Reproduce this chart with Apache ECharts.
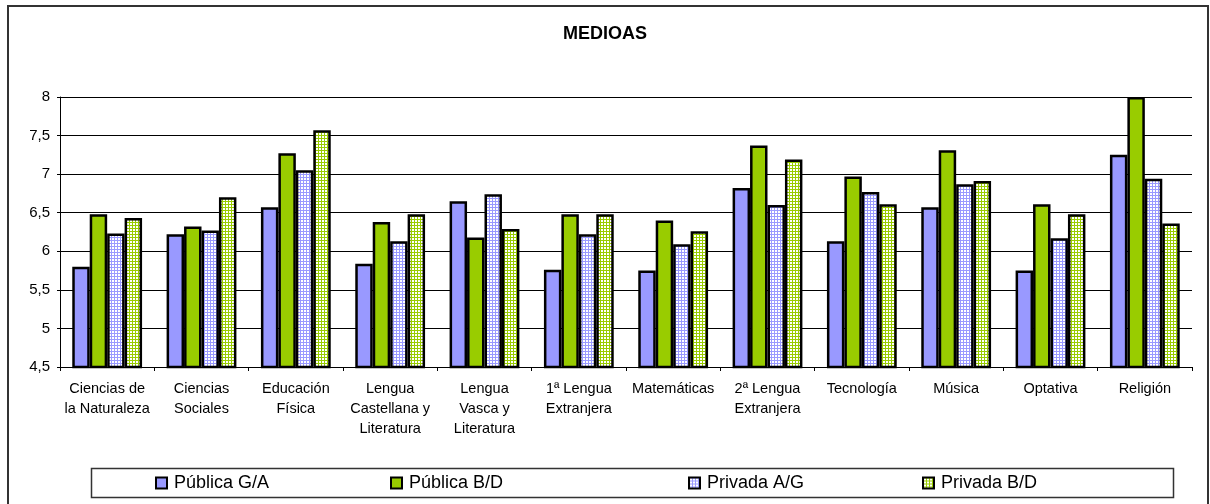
<!DOCTYPE html>
<html>
<head>
<meta charset="utf-8">
<script src="https://cdn.jsdelivr.net/npm/echarts@6/dist/echarts.min.js"></script>
<style>
  html, body { margin: 0; padding: 0; background: #fff; }
  #chart { width: 1210px; height: 504px; }
</style>
</head>
<body>
<div id="chart"></div>
<script>
// ---- data
var categorias = [
  'Ciencias de\nla Naturaleza', 'Ciencias\nSociales', 'Educación\nFísica',
  'Lengua\nCastellana y\nLiteratura', 'Lengua\nVasca y\nLiteratura', '1ª Lengua\nExtranjera',
  'Matemáticas', '2ª Lengua\nExtranjera', 'Tecnología', 'Música', 'Optativa', 'Religión'
];
var publicaGA  = [5.80, 6.22, 6.57, 5.84, 6.65, 5.76, 5.75, 6.82, 6.13, 6.57, 5.75, 7.25];
var publicaBD  = [6.48, 6.32, 7.27, 6.38, 6.18, 6.48, 6.40, 7.37, 6.97, 7.31, 6.61, 8.00];
var privadaAG  = [6.23, 6.27, 7.05, 6.13, 6.74, 6.22, 6.09, 6.60, 6.77, 6.87, 6.17, 6.94];
var privadaBD  = [6.43, 6.70, 7.57, 6.48, 6.29, 6.48, 6.26, 7.19, 6.61, 6.91, 6.48, 6.36];
var yTicks = [4.5, 5, 5.5, 6, 6.5, 7, 7.5, 8];

// small grid pattern like the excel fills
function gridPattern(color) {
    var c = document.createElement('canvas');
    c.width = 3; c.height = 3;
    var ctx = c.getContext('2d');
    ctx.fillStyle = '#ffffff';
    ctx.fillRect(0, 0, 3, 3);
    ctx.fillStyle = color;
    ctx.fillRect(0, 0, 3, 1);
    ctx.fillRect(0, 0, 1, 3);
    return { image: c, repeat: 'repeat' };
}

var fontTxt = '"Liberation Sans", Arial, sans-serif';
var chart = echarts.init(document.getElementById('chart'));

function bar(name, data, color) {
    return {
        name: name,
        type: 'bar',
        barGap: '0%',
        barCategoryGap: '26%',
        data: data,
        itemStyle: { color: color, borderColor: '#000', borderWidth: 2.5 }
    };
}

function leg(name, left) {
    return {
        data: [name],
        left: left,
        top: 474,
        icon: 'rect',
        itemWidth: 11,
        itemHeight: 11,
        itemGap: 0,
        padding: 0,
        itemStyle: { borderWidth: 2, borderColor: '#000' },
        textStyle: { fontSize: 18, color: '#000', fontFamily: fontTxt, padding: [0, 0, 0, 2] }
    };
}

var option = {
    animation: false,
    title: {
        text: 'MEDIOAS',
        left: 'center',
        top: 20,
        textStyle: { fontSize: 18, fontWeight: 'bold', color: '#000', fontFamily: fontTxt }
    },
    legend: [
        leg('Pública G/A', 155),
        leg('Pública B/D', 390),
        leg('Privada A/G', 688),
        leg('Privada B/D', 922)
    ],
    grid: { left: 60, right: 18, top: 97, bottom: 137 },
    xAxis: {
        type: 'category',
        data: categorias,
        axisLine: { lineStyle: { color: '#000', width: 1 } },
        axisTick: { show: true, length: 4, lineStyle: { color: '#000' } },
        axisLabel: {
            interval: 0,
            margin: 12,
            fontSize: 14.5,
            lineHeight: 20,
            color: '#000',
            fontFamily: fontTxt
        }
    },
    yAxis: {
        type: 'value',
        min: yTicks[0],
        max: yTicks[yTicks.length - 1],
        interval: 0.5,
        axisLine: { show: true, lineStyle: { color: '#000' } },
        axisTick: { show: true, length: 3, lineStyle: { color: '#000' } },
        splitLine: { lineStyle: { color: '#000', width: 1 } },
        axisLabel: {
            fontSize: 15,
            color: '#000',
            margin: 10,
            fontFamily: fontTxt,
            formatter: function (v) { return String(v).replace('.', ','); }
        }
    },
    graphic: [
        {
            type: 'rect',
            shape: { x: 8, y: 6, width: 1200, height: 520 },
            style: { fill: null, stroke: '#333', lineWidth: 2 }
        },
        {
            type: 'rect',
            shape: { x: 91.5, y: 468.5, width: 1082, height: 29 },
            style: { fill: null, stroke: '#333', lineWidth: 1.5 }
        }
    ],
    series: [
        bar('Pública G/A', publicaGA, '#9999FF'),
        bar('Pública B/D', publicaBD, '#99CC00'),
        bar('Privada A/G', privadaAG, gridPattern('#9999FF')),
        bar('Privada B/D', privadaBD, gridPattern('#99CC00'))
    ]
};
chart.setOption(option);
</script>
</body>
</html>
